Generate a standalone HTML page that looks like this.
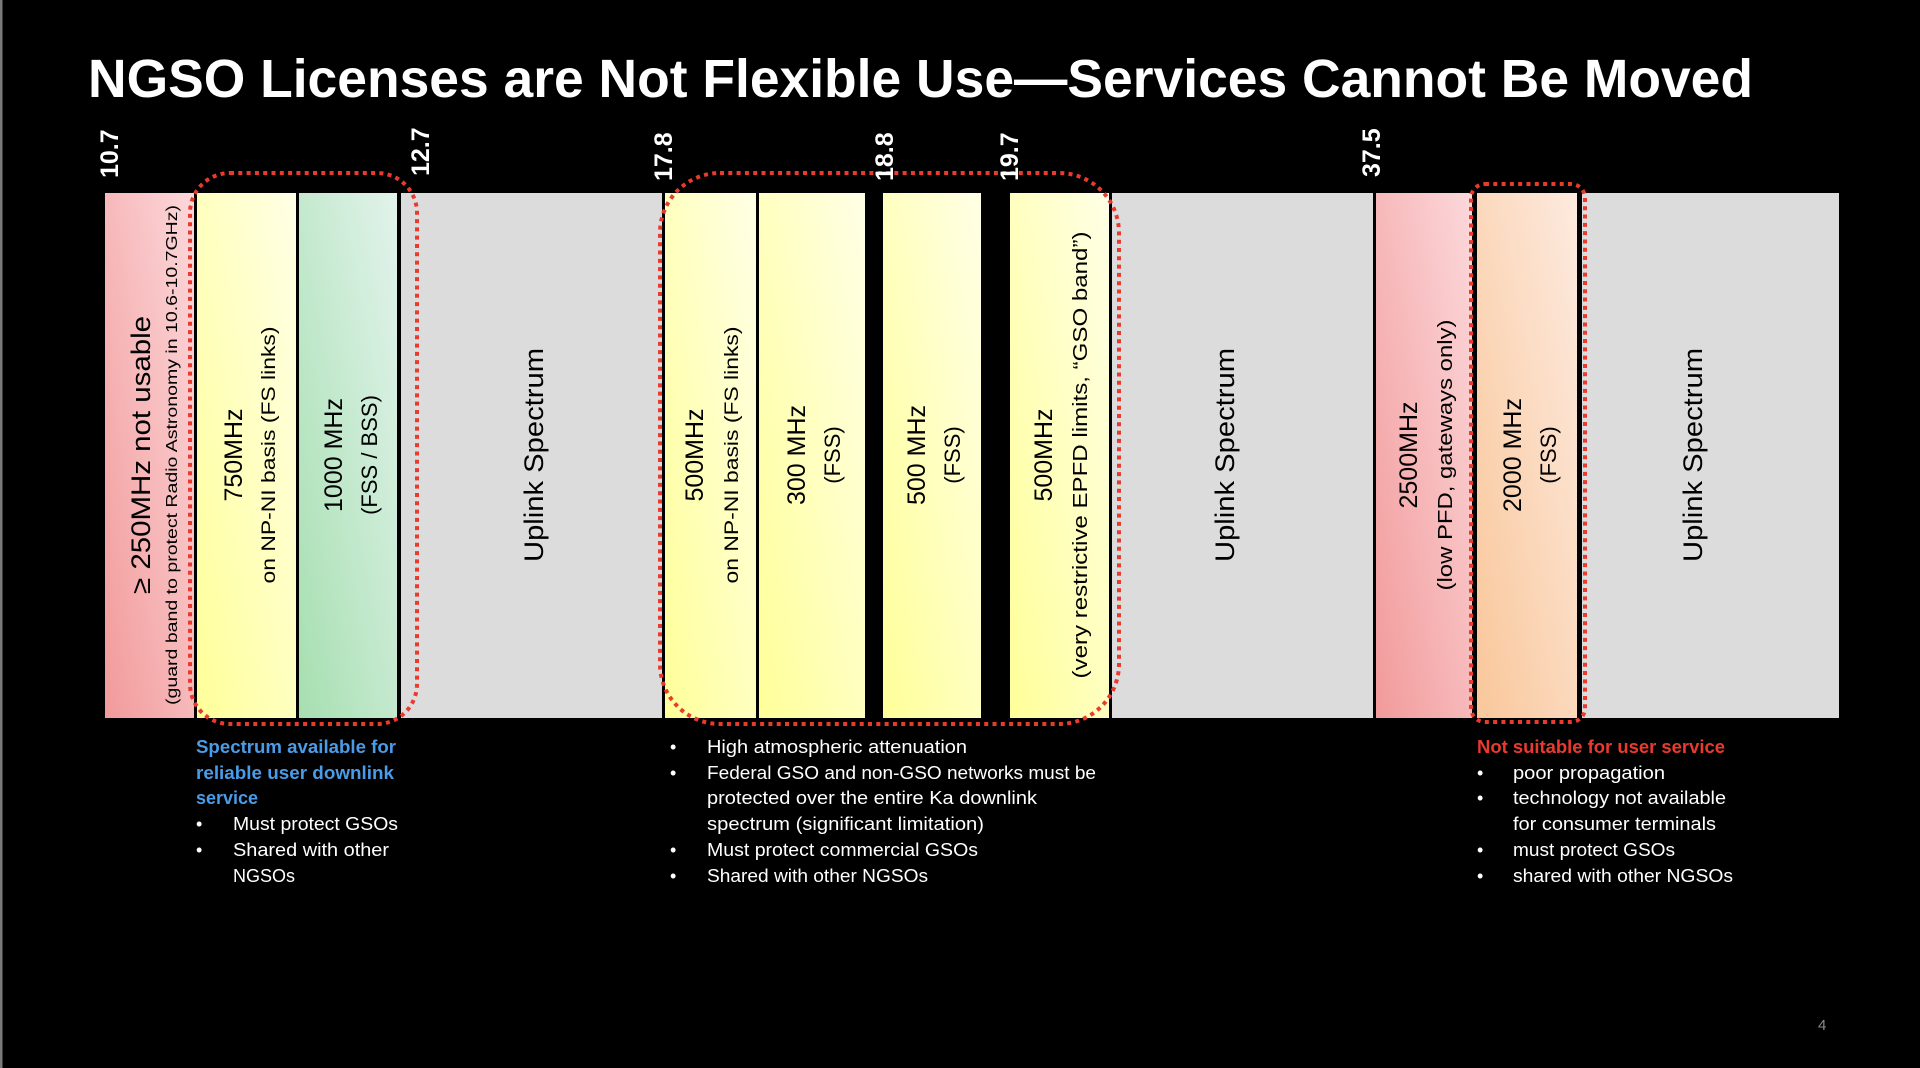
<!DOCTYPE html>
<html><head><meta charset="utf-8">
<style>
html,body{margin:0;padding:0;background:#000;}
body{width:1920px;height:1068px;overflow:hidden;}
svg{display:block;}
.f{font-family:"Liberation Sans",sans-serif;}
</style></head>
<body>
<svg width="1920" height="1068" viewBox="0 0 1920 1068" xmlns="http://www.w3.org/2000/svg">
<defs>
<linearGradient id="pk" x1="0" y1="1" x2="1" y2="0"><stop offset="0" stop-color="#f29a9a"/><stop offset="1" stop-color="#fcd8db"/></linearGradient>
<linearGradient id="yl" x1="0" y1="1" x2="1" y2="0"><stop offset="0" stop-color="#ffff99"/><stop offset="1" stop-color="#ffffe6"/></linearGradient>
<linearGradient id="gr" x1="0" y1="1" x2="1" y2="0"><stop offset="0" stop-color="#a6dfb0"/><stop offset="1" stop-color="#e2f3ec"/></linearGradient>
<linearGradient id="or" x1="0" y1="1" x2="1" y2="0"><stop offset="0" stop-color="#f9c79a"/><stop offset="1" stop-color="#fdeadf"/></linearGradient>
</defs>
<rect width="1920" height="1068" fill="#000"/>
<rect x="0" y="0" width="2.5" height="1068" fill="#7a7a7a"/>

<text class="f" x="88" y="97" font-size="54" font-weight="bold" fill="#fff" textLength="1665" lengthAdjust="spacingAndGlyphs">NGSO Licenses are Not Flexible Use—Services Cannot Be Moved</text>

<!-- bands -->
<rect x="105" y="193" width="89" height="525" fill="url(#pk)"/>
<rect x="197" y="193" width="99" height="525" fill="url(#yl)"/>
<rect x="299" y="193" width="98" height="525" fill="url(#gr)"/>
<rect x="401" y="193" width="261" height="525" fill="#dcdcdc"/>
<rect x="665" y="193" width="91" height="525" fill="url(#yl)"/>
<rect x="759" y="193" width="106" height="525" fill="url(#yl)"/>
<rect x="883" y="193" width="98" height="525" fill="url(#yl)"/>
<rect x="1010" y="193" width="99" height="525" fill="url(#yl)"/>
<rect x="1112" y="193" width="261" height="525" fill="#dcdcdc"/>
<rect x="1376" y="193" width="96" height="525" fill="url(#pk)"/>
<rect x="1477" y="193" width="100" height="525" fill="url(#or)"/>
<rect x="1582" y="193" width="257" height="525" fill="#dcdcdc"/>

<!-- dotted outlines -->
<g fill="none" stroke="#ea3a2e" stroke-width="4" stroke-dasharray="4 4.3">
<rect x="190" y="173" width="227" height="551" rx="40" ry="40"/>
<rect x="660" y="173" width="459" height="551" rx="60" ry="60"/>
<rect x="1471" y="184" width="114" height="538" rx="14" ry="14"/>
</g>

<!-- frequency labels -->
<g class="f" font-size="25" font-weight="bold" fill="#fff">
<text transform="translate(118,178) rotate(-90)">10.7</text>
<text transform="translate(429,176) rotate(-90)">12.7</text>
<text transform="translate(672,181) rotate(-90)">17.8</text>
<text transform="translate(893,181) rotate(-90)">18.8</text>
<text transform="translate(1018,181) rotate(-90)">19.7</text>
<text transform="translate(1380,177) rotate(-90)">37.5</text>
</g>

<!-- rotated band labels -->
<g class="f" fill="#000" text-anchor="middle">
<text transform="translate(150,455) rotate(-90)" font-size="27" textLength="278" lengthAdjust="spacingAndGlyphs">≥ 250MHz not usable</text>
<text transform="translate(177,455) rotate(-90)" font-size="16" textLength="500" lengthAdjust="spacingAndGlyphs">(guard band to protect Radio Astronomy in 10.6-10.7GHz)</text>

<text transform="translate(242,455) rotate(-90)" font-size="25">750MHz</text>
<text transform="translate(275,455) rotate(-90)" font-size="19" textLength="257" lengthAdjust="spacingAndGlyphs">on NP-NI basis (FS links)</text>

<text transform="translate(342,455) rotate(-90)" font-size="25">1000 MHz</text>
<text transform="translate(377,455) rotate(-90)" font-size="22">(FSS / BSS)</text>

<text transform="translate(543,455) rotate(-90)" font-size="27" textLength="214" lengthAdjust="spacingAndGlyphs">Uplink Spectrum</text>

<text transform="translate(703,455) rotate(-90)" font-size="25">500MHz</text>
<text transform="translate(738,455) rotate(-90)" font-size="19" textLength="257" lengthAdjust="spacingAndGlyphs">on NP-NI basis (FS links)</text>

<text transform="translate(805,455) rotate(-90)" font-size="25">300 MHz</text>
<text transform="translate(840,455) rotate(-90)" font-size="22">(FSS)</text>

<text transform="translate(925,455) rotate(-90)" font-size="25">500 MHz</text>
<text transform="translate(960,455) rotate(-90)" font-size="22">(FSS)</text>

<text transform="translate(1052,455) rotate(-90)" font-size="25">500MHz</text>
<text transform="translate(1087,455) rotate(-90)" font-size="20" textLength="447" lengthAdjust="spacingAndGlyphs">(very restrictive EPFD limits, “GSO band”)</text>

<text transform="translate(1234,455) rotate(-90)" font-size="27" textLength="214" lengthAdjust="spacingAndGlyphs">Uplink Spectrum</text>

<text transform="translate(1417,455) rotate(-90)" font-size="25">2500MHz</text>
<text transform="translate(1452,455) rotate(-90)" font-size="20" textLength="271" lengthAdjust="spacingAndGlyphs">(low PFD, gateways only)</text>

<text transform="translate(1521,455) rotate(-90)" font-size="25">2000 MHz</text>
<text transform="translate(1556,455) rotate(-90)" font-size="22">(FSS)</text>

<text transform="translate(1702,455) rotate(-90)" font-size="27" textLength="214" lengthAdjust="spacingAndGlyphs">Uplink Spectrum</text>
</g>

<!-- bottom notes -->
<g class="f" font-size="18" fill="#fff">
<text x="196" y="753" fill="#4a9be8" font-weight="bold" textLength="200" lengthAdjust="spacingAndGlyphs">Spectrum available for</text>
<text x="196" y="779" fill="#4a9be8" font-weight="bold" textLength="198" lengthAdjust="spacingAndGlyphs">reliable user downlink</text>
<text x="196" y="804" fill="#4a9be8" font-weight="bold">service</text>
<text x="196" y="830">•</text><text x="233" y="830" textLength="165" lengthAdjust="spacingAndGlyphs">Must protect GSOs</text>
<text x="196" y="856">•</text><text x="233" y="856" textLength="156" lengthAdjust="spacingAndGlyphs">Shared with other</text>
<text x="233" y="882">NGSOs</text>

<text x="670" y="753">•</text><text x="707" y="753" textLength="260" lengthAdjust="spacingAndGlyphs">High atmospheric attenuation</text>
<text x="670" y="779">•</text><text x="707" y="779" textLength="389" lengthAdjust="spacingAndGlyphs">Federal GSO and non-GSO networks must be</text>
<text x="707" y="804" textLength="330" lengthAdjust="spacingAndGlyphs">protected over the entire Ka downlink</text>
<text x="707" y="830" textLength="277" lengthAdjust="spacingAndGlyphs">spectrum (significant limitation)</text>
<text x="670" y="856">•</text><text x="707" y="856" textLength="271" lengthAdjust="spacingAndGlyphs">Must protect commercial GSOs</text>
<text x="670" y="882">•</text><text x="707" y="882" textLength="221" lengthAdjust="spacingAndGlyphs">Shared with other NGSOs</text>

<text x="1477" y="753" fill="#ea3a2e" font-weight="bold" textLength="248" lengthAdjust="spacingAndGlyphs">Not suitable for user service</text>
<text x="1477" y="779">•</text><text x="1513" y="779" textLength="152" lengthAdjust="spacingAndGlyphs">poor propagation</text>
<text x="1477" y="804">•</text><text x="1513" y="804" textLength="213" lengthAdjust="spacingAndGlyphs">technology not available</text>
<text x="1513" y="830" textLength="203" lengthAdjust="spacingAndGlyphs">for consumer terminals</text>
<text x="1477" y="856">•</text><text x="1513" y="856" textLength="162" lengthAdjust="spacingAndGlyphs">must protect GSOs</text>
<text x="1477" y="882">•</text><text x="1513" y="882" textLength="220" lengthAdjust="spacingAndGlyphs">shared with other NGSOs</text>
</g>

<text class="f" x="1818" y="1030" font-size="15" fill="#8a8a8a">4</text>
</svg>
</body></html>
